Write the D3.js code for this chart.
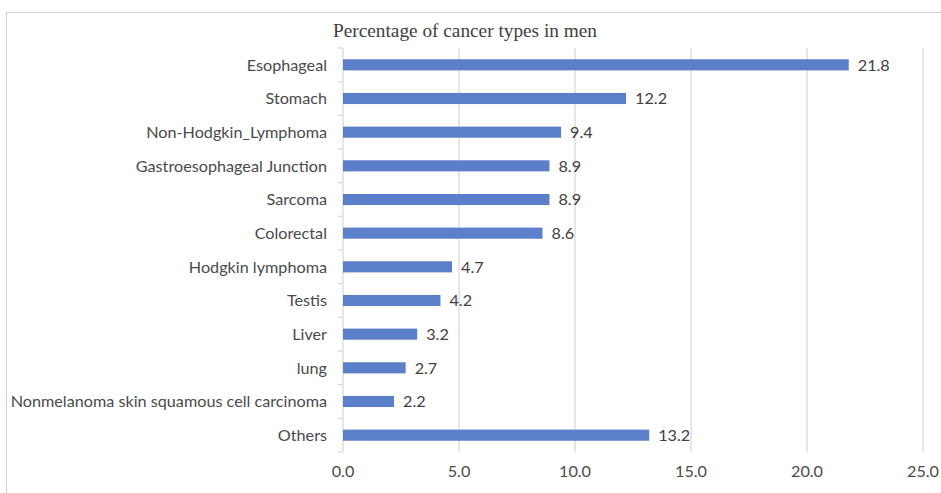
<!DOCTYPE html>
<html>
<head>
<meta charset="utf-8">
<script src="https://cdn.jsdelivr.net/npm/d3@7"></script>
<style>
  html, body { margin: 0; padding: 0; background: #fff; }
  svg { display: block; }
</style>
</head>
<body>
<svg id="chart" width="941" height="493"></svg>
<script>
// Cancer types in men, percentage share
const categories = [
  "Esophageal", "Stomach", "Non-Hodgkin_Lymphoma", "Gastroesophageal Junction",
  "Sarcoma", "Colorectal", "Hodgkin lymphoma", "Testis", "Liver", "lung",
  "Nonmelanoma skin squamous cell carcinoma", "Others"
];
const values = [21.8, 12.2, 9.4, 8.9, 8.9, 8.6, 4.7, 4.2, 3.2, 2.7, 2.2, 13.2];
const xTicks = [0, 5, 10, 15, 20, 25];
const title = "Percentage of cancer types in men";

const svg = d3.select("#chart");
const plot = { left: 343, right: 923, top: 48, bottom: 452 };
const labelFont = "Lato, 'Open Sans', sans-serif";
const labelSize = 16.2;
const textColor = "#4a4a4a";

// Outer chart frame
svg.append("rect")
  .attr("x", 6.5).attr("y", 12.5)
  .attr("width", 960).attr("height", 500)
  .attr("fill", "#fff")
  .attr("stroke", "#d0d0d0").attr("stroke-width", 1);

const x = d3.scaleLinear().domain([0, 25]).range([plot.left, plot.right]);
const y = d3.scaleBand().domain(categories).range([plot.top, plot.bottom]).paddingInner(0.67).paddingOuter(0.335);
const yBand = d3.scaleBand().domain(categories).range([plot.top, plot.bottom]);

// Vertical gridlines
svg.append("g")
  .selectAll("line")
  .data(xTicks.filter(d => d > 0))
  .join("line")
  .attr("x1", d => x(d)).attr("x2", d => x(d))
  .attr("y1", plot.top).attr("y2", plot.bottom)
  .attr("stroke", "#d9d9d9").attr("stroke-width", 1.3);

// Category axis line with tick marks at band boundaries
const yAxisG = svg.append("g");
yAxisG.append("line")
  .attr("x1", plot.left).attr("x2", plot.left)
  .attr("y1", plot.top).attr("y2", plot.bottom)
  .attr("stroke", "#d9d9d9").attr("stroke-width", 1.3);
const bounds = categories.map(c => yBand(c)).concat([plot.bottom]);
yAxisG.selectAll("line.tick")
  .data(bounds)
  .join("line")
  .attr("class", "tick")
  .attr("x1", plot.left - 5).attr("x2", plot.left)
  .attr("y1", d => d).attr("y2", d => d)
  .attr("stroke", "#d9d9d9").attr("stroke-width", 1.3);

// Bars
svg.append("g")
  .selectAll("rect")
  .data(categories)
  .join("rect")
  .attr("x", x(0))
  .attr("y", d => y(d))
  .attr("width", (d, i) => x(values[i]) - x(0))
  .attr("height", y.bandwidth())
  .attr("fill", "#5b7fc9");

// Value labels
svg.append("g")
  .selectAll("text")
  .data(categories)
  .join("text")
  .attr("x", (d, i) => x(values[i]) + 9)
  .attr("y", d => yBand(d) + yBand.bandwidth() / 2)
  .attr("dy", "0.35em")
  .attr("font-family", labelFont)
  .attr("font-size", labelSize)
  .attr("fill", "#404040")
  .text((d, i) => values[i].toFixed(1));

// Category labels
svg.append("g")
  .selectAll("text")
  .data(categories)
  .join("text")
  .attr("x", plot.left - 16)
  .attr("y", d => yBand(d) + yBand.bandwidth() / 2)
  .attr("dy", "0.35em")
  .attr("text-anchor", "end")
  .attr("font-family", labelFont)
  .attr("font-size", labelSize)
  .attr("fill", textColor)
  .text(d => d);

// X tick labels
svg.append("g")
  .selectAll("text")
  .data(xTicks)
  .join("text")
  .attr("x", d => x(d))
  .attr("y", 471)
  .attr("dy", "0.35em")
  .attr("text-anchor", "middle")
  .attr("font-family", labelFont)
  .attr("font-size", labelSize)
  .attr("fill", textColor)
  .text(d => d.toFixed(1));

// Title
svg.append("text")
  .attr("x", 465)
  .attr("y", 37)
  .attr("text-anchor", "middle")
  .attr("font-family", "'Liberation Serif', 'Times New Roman', serif")
  .attr("font-size", 19.3)
  .attr("fill", "#404040")
  .text(title);
</script>
</body>
</html>
